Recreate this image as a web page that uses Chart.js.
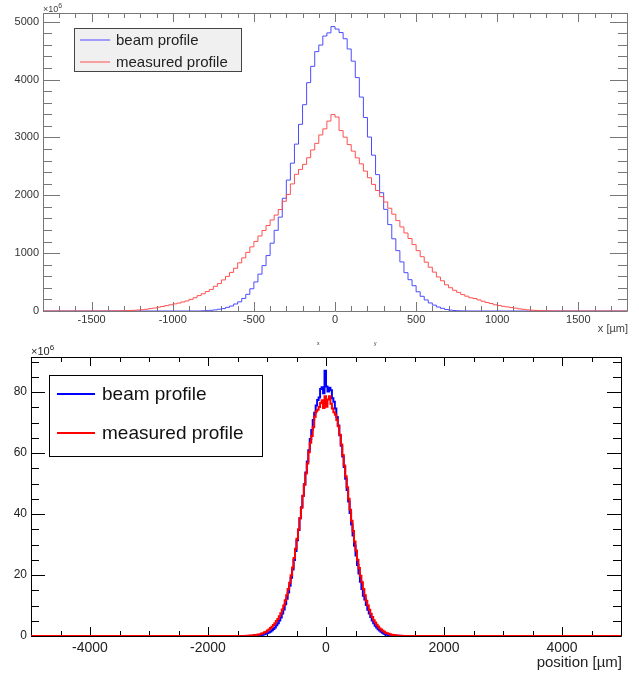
<!DOCTYPE html>
<html>
<head>
<meta charset="utf-8">
<script src="https://cdn.jsdelivr.net/npm/chart.js@4.4.1/dist/chart.umd.min.js"></script>
<style>
  body { margin: 0; background: #fff; }
  #wrap { position: relative; width: 639px; height: 674px; }
  canvas { position: absolute; left: 0; }
  #top { top: 0; }
  #bottom { top: 335px; }
</style>
</head>
<body>
<div id="wrap">
  <canvas id="top" width="639" height="335"></canvas>
  <canvas id="bottom" width="639" height="339"></canvas>
</div>
<script>
// --- data (counts in units of 10^6, positions in µm) ---
const seriesNames = ['beam profile', 'measured profile'];

// upper pad: 25 µm bins
const binWidthTop = 25;
const beamStartTop = -825;
const beamTop = [
  3, 6, 12, 19, 31, 42, 63, 86, 121, 158, 217, 288, 384, 502, 637, 784, 958,
  1172, 1394, 1622, 1948, 2262, 2555, 2884, 3226, 3565, 3946, 4228, 4482, 4596, 4752, 4806, 4915,
  4872, 4812, 4705, 4528, 4318, 4034, 3697, 3344, 3006, 2693, 2357, 2044, 1757, 1493, 1248, 1043,
  848, 662, 541, 437, 332, 254, 191, 139, 101, 69, 46, 26, 15, 8, 4, 2, 1
];
const measStartTop = -1400;
const measTop = [
  1, 2, 3, 4, 6, 9, 12, 17, 22, 30, 41, 51, 66, 78, 93, 107, 123, 137, 156, 174,
  201, 229, 266, 298, 337, 373, 427, 474, 537, 598, 667, 738, 832, 918, 1013, 1108, 1203, 1297,
  1392, 1478, 1573, 1658, 1754, 1896, 2013, 2196, 2362, 2447, 2534, 2648, 2783, 2897, 3043, 3148, 3282, 3395,
  3352, 3118, 3004, 2876, 2763, 2647, 2543, 2418, 2303, 2188, 2083, 1977, 1884, 1776, 1673, 1562,
  1453, 1348, 1253, 1147, 1043, 938, 843, 757, 672, 588, 522, 453, 402, 358, 322, 283, 256, 228,
  216, 191, 169, 147, 129, 107, 96, 81, 71, 59, 49, 37, 29, 19, 14, 10, 7, 5, 3, 2, 1, 0
];
const topXRange = [-1800, 1800];
const topYMax = 5150;
const topXTicks = [-1500, -1000, -500, 0, 500, 1000, 1500];
const topYTicks = [0, 1000, 2000, 3000, 4000, 5000];

// lower pad: 25 µm bins from -1400 to 1400
const binWidthBottom = 25;
const startBottom = -1400;
const beamBottom = [
  0, 0, 0, 0, 0.1, 0, 0.1, 0.1, 0.1, 0.2,
  0.2, 0.3, 0.3, 0.5, 0.6, 0.8, 1.0, 1.2, 1.5, 1.9,
  2.3, 2.8, 3.5, 4.2, 5.1, 6.1, 7.4, 8.7, 10.4, 12.2,
  14.3, 16.5, 19.1, 21.8, 24.9, 27.9, 31.4, 34.8, 38.6, 42.2,
  46.0, 49.8, 53.6, 57.2, 60.9, 64.6, 67.6, 70.8, 73.2, 75.6,
  77.4, 78.2, 81.0, 81.6, 79.6, 87.0,
  81.8, 80.2, 81.4, 80.6, 78.0, 76.8, 74.6, 71.8, 69.0, 65.8,
  62.4, 58.9, 55.4, 51.6, 47.9, 44.1, 40.3, 36.6, 33.0, 29.6,
  26.4, 23.3, 20.5, 17.8, 15.4, 13.2, 12.0, 10.2, 8.6, 7.4,
  6.2, 5.1, 4.2, 3.4, 2.8, 2.2, 1.8, 1.4, 1.1, 0.7,
  0.5, 0.4, 0.3, 0.2, 0.2, 0.1, 0.1, 0.1, 0, 0.1,
  0, 0, 0, 0, 0, 0
];
const measBottom = [
  0, 0, 0.1, 0.1, 0.1, 0.2, 0.2, 0.3, 0.3, 0.4,
  0.5, 0.6, 0.8, 0.9, 1.2, 1.4, 1.8, 2.1, 2.6, 3.0,
  3.6, 4.2, 4.9, 5.6, 6.5, 7.5, 8.7, 10.0, 11.7, 13.4,
  15.4, 17.5, 19.9, 22.5, 25.6, 28.6, 31.9, 35.0, 38.6, 42.1,
  45.9, 49.6, 53.3, 56.6, 60.3, 63.4, 65.6, 68.5, 71.9, 73.6,
  74.2, 75.1, 76.4, 77.3, 74.8, 78.6,
  75.2, 77.6, 78.6, 76.2, 74.6, 73.4, 72.6, 70.8, 68.8, 66.0,
  62.8, 59.4, 55.9, 52.4, 48.8, 45.0, 41.4, 37.8, 34.4, 31.0,
  28.0, 25.0, 22.3, 19.8, 17.6, 15.4, 13.4, 11.6, 10.0, 8.6,
  7.3, 6.2, 5.2, 4.4, 3.7, 3.1, 2.5, 2.1, 1.7, 1.4,
  1.1, 0.9, 0.7, 0.6, 0.4, 0.3, 0.3, 0.2, 0.2, 0.1,
  0.1, 0.1, 0, 0, 0, 0
];
const bottomXRange = [-5000, 5000];
const bottomYMax = 91.5;
const bottomXTicks = [-4000, -2000, 0, 2000, 4000];
const bottomYTicks = [0, 20, 40, 60, 80];

// bins -> step points (left edges), flat zero out to the axis ends
function histPoints(start, width, values, range) {
  const pts = [{ x: range[0], y: 0 }];
  values.forEach((v, i) => pts.push({ x: start + i * width, y: v }));
  pts.push({ x: start + values.length * width, y: 0 });
  pts.push({ x: range[1], y: 0 });
  return pts;
}

Chart.defaults.font.family = '"Liberation Sans", Arial, sans-serif';

// ROOT style frame with inward ticks on all four sides
const rootFrame = {
  id: 'rootFrame',
  beforeDatasetsDraw(chart, args, o) {
    const { ctx, chartArea: a } = chart;
    const sx = chart.scales.x, sy = chart.scales.y;
    ctx.save();
    ctx.strokeStyle = o.color;
    ctx.lineWidth = 1;
    ctx.beginPath();
    ctx.rect(a.left + 0.5, a.top + 0.5, a.right - a.left, a.bottom - a.top);
    for (let k = Math.ceil(sx.min / o.xMinor); k * o.xMinor <= sx.max; k++) {
      const v = k * o.xMinor;
      const len = v % o.xMajor === 0 ? o.xLen[0] : o.xLen[1];
      const px = Math.round(sx.getPixelForValue(v)) + 0.5;
      ctx.moveTo(px, a.bottom); ctx.lineTo(px, a.bottom - len);
      ctx.moveTo(px, a.top); ctx.lineTo(px, a.top + len);
    }
    for (let k = Math.ceil(sy.min / o.yMinor); k * o.yMinor <= sy.max; k++) {
      const v = k * o.yMinor;
      const len = v % o.yMajor === 0 ? o.yLen[0] : o.yLen[1];
      const py = Math.round(sy.getPixelForValue(v)) + 0.5;
      ctx.moveTo(a.left, py); ctx.lineTo(a.left + len, py);
      ctx.moveTo(a.right, py); ctx.lineTo(a.right - len, py);
    }
    ctx.stroke();
    ctx.restore();
  }
};

// boxed legend inside the frame
const boxLegend = {
  id: 'boxLegend',
  afterDraw(chart, args, o) {
    const { ctx } = chart;
    const [l, t, w, h] = o.box;
    ctx.save();
    ctx.fillStyle = o.fill;
    ctx.fillRect(l, t, w, h);
    ctx.strokeStyle = o.border;
    ctx.lineWidth = 1;
    ctx.strokeRect(l + 0.5, t + 0.5, w, h);
    ctx.font = o.font;
    ctx.textBaseline = 'middle';
    chart.data.datasets.forEach((ds, i) => {
      const yy = o.rows[i];
      ctx.strokeStyle = ds.borderColor;
      ctx.lineWidth = ds.borderWidth;
      ctx.beginPath();
      ctx.moveTo(o.line[0], yy);
      ctx.lineTo(o.line[1], yy);
      ctx.stroke();
      ctx.fillStyle = o.textColor;
      ctx.fillText(ds.label, o.textX, yy + 1);
    });
    ctx.restore();
  }
};

// axis title at the right end and the x10^6 exponent
const axisText = {
  id: 'axisText',
  afterDraw(chart, args, o) {
    const { ctx, chartArea: a } = chart;
    ctx.save();
    ctx.fillStyle = o.color;
    ctx.textBaseline = 'middle';
    ctx.textAlign = 'right';
    ctx.font = o.titleFont;
    ctx.fillText(o.title, a.right + 1, o.titleY);
    ctx.textAlign = 'left';
    ctx.textBaseline = 'alphabetic';
    ctx.font = o.expFont;
    ctx.fillText('×10', a.left, o.expY);
    const w = ctx.measureText('×10').width;
    ctx.font = o.supFont;
    ctx.fillText('6', a.left + w, o.expY - o.supRise);
    (o.extra || []).forEach(e => {
      ctx.font = e.font;
      ctx.fillText(e.text, e.x, e.y);
    });
    ctx.restore();
  }
};

function scaleOpts(range, ticks, fit, tickFont, pad, color) {
  return {
    type: 'linear', min: range[0], max: range[1],
    afterFit: fit,
    afterBuildTicks: s => { s.ticks = ticks.map(v => ({ value: v })); },
    grid: { display: false, drawTicks: false },
    border: { display: false },
    ticks: { padding: pad, color: color, font: { size: tickFont }, maxRotation: 0, autoSkip: false,
             callback: v => String(v) }
  };
}

new Chart(document.getElementById('top'), {
  type: 'line',
  data: {
    datasets: [
      { label: seriesNames[0], data: histPoints(beamStartTop, binWidthTop, beamTop, topXRange),
        borderColor: 'rgb(75,75,255)', borderWidth: 1, stepped: true, pointRadius: 0, order: 1 },
      { label: seriesNames[1], data: histPoints(measStartTop, binWidthTop, measTop, topXRange),
        borderColor: 'rgb(255,80,80)', borderWidth: 1, stepped: true, pointRadius: 0, order: 0 }
    ]
  },
  options: {
    responsive: false, animation: false, events: [],
    layout: { padding: { top: 13, right: 12, left: 0, bottom: 0 } },
    scales: {
      x: scaleOpts(topXRange, topXTicks, s => { s.height = 24; }, 11, 2, '#333'),
      y: scaleOpts([0, topYMax], topYTicks, s => { s.width = 43; }, 11, 4, '#333')
    },
    plugins: {
      legend: { display: false }, tooltip: { enabled: false },
      rootFrame: { color: '#777', xMinor: 100, xMajor: 500, xLen: [9, 5], yMinor: 200, yMajor: 1000, yLen: [17, 9] },
      boxLegend: { box: [74, 28, 167, 43], fill: '#f0f0f0', border: '#444', font: '15px "Liberation Sans", Arial, sans-serif',
                   textColor: '#222', line: [80, 110], rows: [40, 62], textX: 116 },
      axisText: { color: '#444', title: 'x [µm]', titleFont: '11px "Liberation Sans", Arial, sans-serif', titleY: 329,
                  expFont: '9px "Liberation Sans", Arial, sans-serif', supFont: '7px "Liberation Sans", Arial, sans-serif',
                  expY: 12, supRise: 4 }
    }
  },
  plugins: [rootFrame, boxLegend, axisText]
});

new Chart(document.getElementById('bottom'), {
  type: 'line',
  data: {
    datasets: [
      { label: seriesNames[0], data: histPoints(startBottom, binWidthBottom, beamBottom, bottomXRange),
        borderColor: '#0000ff', borderWidth: 2, stepped: true, pointRadius: 0, order: 1 },
      { label: seriesNames[1], data: histPoints(startBottom, binWidthBottom, measBottom, bottomXRange),
        borderColor: '#ff0000', borderWidth: 2, stepped: true, pointRadius: 0, order: 0 }
    ]
  },
  options: {
    responsive: false, animation: false, events: [],
    layout: { padding: { top: 22, right: 18, left: 0, bottom: 0 } },
    scales: {
      x: scaleOpts(bottomXRange, bottomXTicks, s => { s.height = 38; }, 14, 4, '#222'),
      y: scaleOpts([0, bottomYMax], bottomYTicks, s => { s.width = 31; }, 12, 4, '#222')
    },
    plugins: {
      legend: { display: false }, tooltip: { enabled: false },
      rootFrame: { color: '#000', xMinor: 500, xMajor: 2000, xLen: [9, 5], yMinor: 5, yMajor: 20, yLen: [14, 8] },
      boxLegend: { box: [49, 40, 213, 81], fill: '#fff', border: '#000', font: '19px "Liberation Sans", Arial, sans-serif',
                   textColor: '#111', line: [57, 95], rows: [59, 98], textX: 102 },
      axisText: { color: '#222', title: 'position [µm]', titleFont: '15px "Liberation Sans", Arial, sans-serif', titleY: 328,
                  expFont: '11px "Liberation Sans", Arial, sans-serif', supFont: '8px "Liberation Sans", Arial, sans-serif',
                  expY: 20, supRise: 5,
                  extra: [{ text: 'x', x: 317, y: 10, font: '5px "Liberation Sans", Arial, sans-serif' },
                          { text: 'y', x: 374, y: 10, font: '5px "Liberation Sans", Arial, sans-serif' }] }
    }
  },
  plugins: [rootFrame, boxLegend, axisText]
});
</script>
</body>
</html>
